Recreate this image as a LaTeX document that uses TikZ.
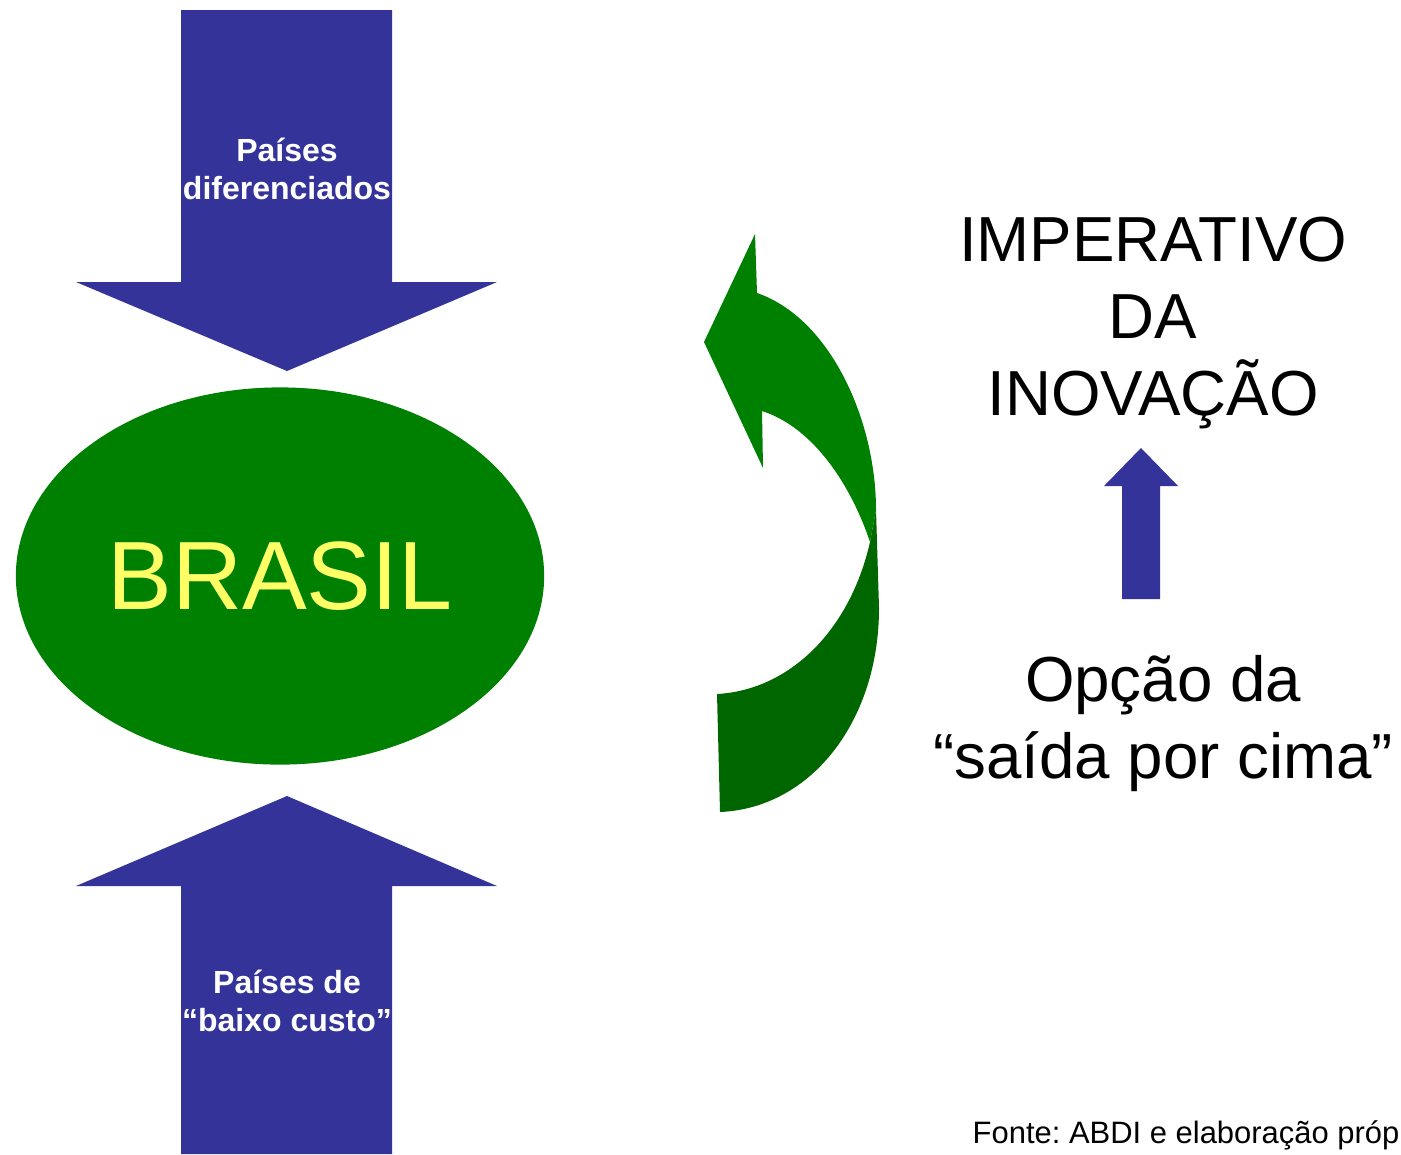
\documentclass[tikz,border=0pt]{standalone}
\usepackage{fontspec}
\setmainfont{Liberation Sans}
\usetikzlibrary{shapes.geometric}
\definecolor{arrowblue}{RGB}{51,51,153}
\definecolor{brgreen}{RGB}{0,128,0}
\definecolor{brdark}{RGB}{0,102,0}
\definecolor{brtext}{RGB}{255,255,102}
\frenchspacing

\begin{document}
\begin{tikzpicture}[x=0.01cm, y=-0.01cm,
	blockarrow/.style={fill=arrowblue},
	arrowlabel/.style={text=white, font=\fontsize{9.1}{10.8}\selectfont\bfseries, align=center},
	bigtext/.style={font=\fontsize{18.1}{21.9}\selectfont, align=center}]
		\useasboundingbox (0,0) rectangle (1401,1154);
		
		\fill[blockarrow] (181,10) -- (392,10) -- (392,282) -- (497,282)
		-- (287,371) -- (76,282) -- (181,282) -- cycle;
		\node[arrowlabel] (dif) at (287,169) {Países\\diferenciados};
		
		\fill[blockarrow] (287,796) -- (497,886) -- (392,886) -- (392,1154)
		-- (181,1154) -- (181,886) -- (76,886) -- cycle;
		\node[arrowlabel] (custo) at (287,1001) {Países de\\“baixo custo”};
		
		\node[ellipse, fill=brgreen, inner sep=0pt, minimum width=5.28cm,
		minimum height=3.77cm, text=brtext, font=\fontsize{27.6}{32}\selectfont]
		(brasil) at (280,576) {BRASIL};
		
		\coordinate (T) at (755,234);
		\coordinate (H) at (704,342);
		\coordinate (L) at (763,468);
		\coordinate (Po) at (757,293);
		\coordinate (Pi) at (762,411);
		\coordinate (R) at (876,510);
		\coordinate (X) at (870,542);
		\coordinate (Q) at (879,608);
		\coordinate (Ei) at (717,694);
		\coordinate (Eo) at (720,812);
		\fill[brdark] (X) .. controls (850,630) and (790,690) .. (Ei)
		-- (Eo) .. controls (812,808) and (879,720) .. (Q) -- (R) -- cycle;
		\fill[brgreen] (Po) .. controls (830,318) and (876,420) .. (R)
		-- (X) .. controls (852,488) and (815,428) .. (Pi)
		-- (L) -- (H) -- (T) -- cycle;
		
		\node[bigtext] (imp) at (1153,323) {IMPERATIVO\\DA\\INOVAÇÃO};
		\node[bigtext] (opc) at (1163,724) {Opção da\\“saída por cima”};
		\fill[blockarrow] (1141,448) -- (1178,486) -- (1160,486) -- (1160,599)
		-- (1122,599) -- (1122,486) -- (1104,486) -- cycle;
		
		\node[anchor=base west, inner sep=0pt, font=\fontsize{8.8}{10.5}\selectfont]
		(fonte) at (972,1143) {Fonte: ABDI e elaboração própria};
\end{tikzpicture}
\end{document}
